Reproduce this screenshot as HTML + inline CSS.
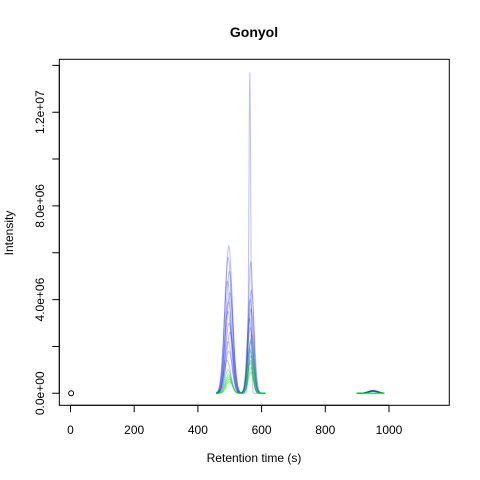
<!DOCTYPE html>
<html><head><meta charset="utf-8"><style>
body{margin:0;background:#fff}
svg{display:block;font-family:"Liberation Sans",Arial,sans-serif}
</style></head><body>
<svg id="c" width="480" height="480" viewBox="0 0 480 480">
<text x="254" y="37" text-anchor="middle" font-weight="bold" font-size="14">Gonyol</text>
<g id="plot"></g>
<rect x="59.3" y="59.3" width="390" height="346" fill="none" stroke="#000" stroke-width="1"/>
<g id="xaxis"></g>
<g id="yaxis"></g>
<text x="254" y="462" text-anchor="middle" font-size="12">Retention time (s)</text>
<text transform="translate(13,233) rotate(-90)" text-anchor="middle" font-size="12">Intensity</text>
</svg>
<script>
const xTicks=[0,200,400,600,800,1000];
const yTicks=[0,2e6,4e6,6e6,8e6,1e7,1.2e7,1.4e7];
const yLabels={0:"0.0e+00",4000000:"4.0e+06",8000000:"8.0e+06",12000000:"1.2e+07"};
const blueP1=[6.3e6,5.8e6,5.2e6,4.8e6,4.3e6,3.9e6,3.5e6,3.0e6,2.6e6,2.2e6,1.8e6,1.4e6];
const blueC1=[497,495,499,493,500,496,494,498,501,495,497,492];
const blueP2=[13.7e6,5.6e6,4.4e6,4.0e6,3.6e6,3.2e6,2.8e6,2.5e6,2.2e6,1.9e6,1.6e6,1.3e6];
const blueC2=[563,566,568,564,567,562,565,569,566,563,567,564];
const blueW2=[3,8,9,8,9,8,9,8,9,8,9,8];
const greenP1=[1.0e6,0.8e6,0.7e6,0.6e6,0.5e6];
const greenP2=[2.3e6,1.8e6,1.4e6,1.1e6,0.9e6];
const bump3=[0.12e6,0.1e6,0.08e6];
const ranges=[[457,612],[898,985]];
const NS="http://www.w3.org/2000/svg";
const X=v=>70.5+v*0.3185, Y=v=>393.3-v*(93.7/4e6);
const plot=document.getElementById('plot');
function g(t,c,s){return Math.exp(-((t-c)*(t-c))/(2*s*s));}
function trace(fn,col,name){
 let d="";ranges.forEach(r=>{for(let t=r[0];t<=r[1];t+=1){d+=(t===r[0]?"M":"L")+X(t).toFixed(1)+","+Y(fn(t)).toFixed(1);}});
 const p=document.createElementNS(NS,'path');p.setAttribute('d',d);p.setAttribute('fill','none');p.setAttribute('stroke',col);p.setAttribute('stroke-width','1');
 
 
 plot.appendChild(p);}
blueP1.forEach((h,i)=>trace(t=>h*g(t,blueC1[i],11)+blueP2[i]*g(t,blueC2[i],blueW2[i])+(bump3[i%3])*g(t,950,15),'rgba(40,40,255,0.3)','blue-trace'));
greenP1.forEach((h,i)=>trace(t=>h*g(t,495+i,10)+greenP2[i]*g(t,566,8),'rgba(0,230,0,0.45)','green-trace'));
const c=document.createElementNS(NS,'circle');c.setAttribute('cx',X(2));c.setAttribute('cy',Y(0));c.setAttribute('r',2.5);c.setAttribute('fill','none');c.setAttribute('stroke','#000');


plot.appendChild(c);
const xa=document.getElementById('xaxis');
let d="M"+X(0)+",405.3H"+X(1000);
xTicks.forEach(v=>{d+="M"+X(v)+",405.3v7";const t=document.createElementNS(NS,'text');t.setAttribute('x',X(v));t.setAttribute('y',434);t.setAttribute('text-anchor','middle');t.setAttribute('font-size','12');t.textContent=v;


xa.appendChild(t);});
let p=document.createElementNS(NS,'path');p.setAttribute('d',d);p.setAttribute('stroke','#000');xa.appendChild(p);
const ya=document.getElementById('yaxis');
d="M59.3,"+Y(0)+"V"+Y(1.4e7);
yTicks.forEach(v=>{d+="M59.3,"+Y(v)+"h-7";if(yLabels[v]){const t=document.createElementNS(NS,'text');t.setAttribute('transform','translate(44,'+Y(v)+') rotate(-90)');t.setAttribute('text-anchor','middle');t.setAttribute('font-size','12');t.textContent=yLabels[v];


ya.appendChild(t);}});
p=document.createElementNS(NS,'path');p.setAttribute('d',d);p.setAttribute('stroke','#000');ya.appendChild(p);
</script>
</body></html>
